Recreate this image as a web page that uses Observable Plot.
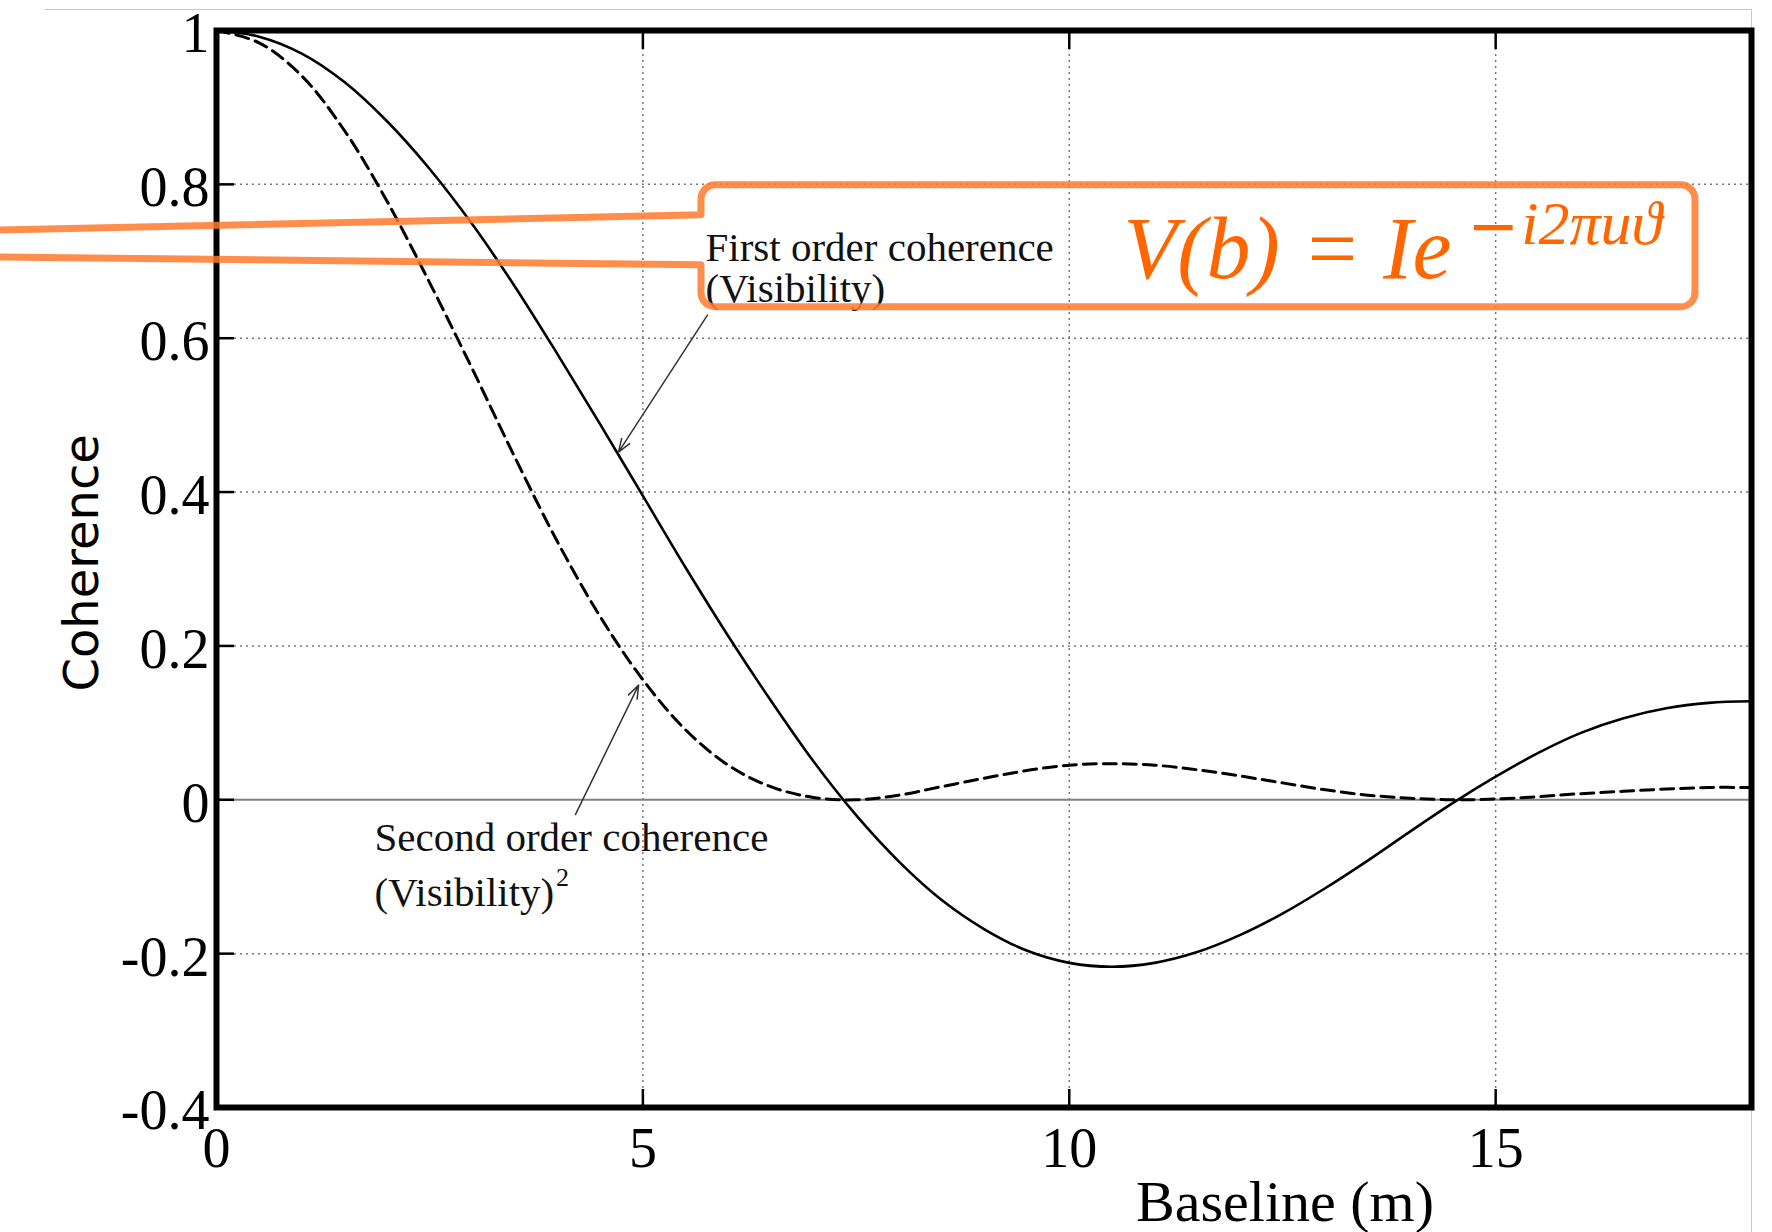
<!DOCTYPE html>
<html><head><meta charset="utf-8">
<script src="https://cdn.jsdelivr.net/npm/d3@7"></script>
<script src="https://cdn.jsdelivr.net/npm/@observablehq/plot@0.6"></script>
<style>
html,body{margin:0;padding:0;background:#fff;}
#wrap{position:relative;width:1772px;height:1232px;overflow:hidden;background:#fff;}
#border{position:absolute;left:45px;top:9px;width:1706px;height:1300px;border-top:1px solid #c8c8c8;border-right:1px solid #c8c8c8;z-index:0;}
#wrap svg{position:absolute;left:0;top:0;z-index:1;}
</style></head><body><div id="wrap"><div id="border"></div></div>
<script>
// ---- data ----
const baseline = [0,0.5,1,1.5,2,2.5,3,3.5,4,4.5,5,5.5,6,6.5,7,7.5,8,8.5,9,9.5,10,10.5,11,11.5,12,12.5,13,13.5,14,14.5,15,15.5,16,16.5,17,17.5,18];
const firstOrder = [1.000,0.992,0.970,0.933,0.882,0.820,0.748,0.667,0.579,0.488,0.395,0.302,0.213,0.129,0.050,-0.020,-0.080,-0.130,-0.168,-0.196,-0.212,-0.217,-0.212,-0.198,-0.176,-0.148,-0.115,-0.079,-0.041,-0.004,0.030,0.061,0.087,0.106,0.119,0.126,0.128];
const secondOrder = [1.000,0.984,0.941,0.870,0.778,0.672,0.560,0.445,0.335,0.238,0.156,0.091,0.045,0.017,0.003,0.000,0.006,0.017,0.028,0.038,0.045,0.047,0.045,0.039,0.031,0.022,0.013,0.006,0.002,0.000,0.001,0.004,0.008,0.011,0.014,0.016,0.016];

const xTicks = [0,5,10,15];
const xTickLabels = ["0","5","10","15"];
const yTicks = [1,0.8,0.6,0.4,0.2,0,-0.2,-0.4];
const yTickLabels = ["1","0.8","0.6","0.4","0.2","0","-0.2","-0.4"];
const gridXTicks = [5,10,15];
const gridYTicks = [0.8,0.6,0.4,0.2,-0.2];

const xLabel = "Baseline (m)";
const yLabel = "Coherence";

// annotations (data units)
const notes = [
  {x:5.734, y:0.701, t:"First order coherence"},
  {x:5.734, y:0.647, t:"(Visibility)"},
  {x:1.853, y:-0.066, t:"Second order coherence"},
  {x:1.853, y:-0.138, t:"(Visibility)"}
];
const noteSup = [{x:3.98, y:-0.112, t:"2"}];
const arrows = [
  {x1:5.757, y1:0.630, x2:4.714, y2:0.452},
  {x1:4.21, y1:-0.019, x2:4.95, y2:0.149}
];
const formulaMain = [{x:10.636, y:0.678, t:"V(b) = Ie"}];
const formulaMinus = [{x:14.67, y:0.718, t:"−"}];
const formulaSup = [{x:15.30, y:0.723, t:"i2πuϑ"}];
const callout = {left:5.687, right:17.343, top:0.7987, bottom:0.6403, joinTop:0.7597, joinBottom:0.6948, tipX:-2.533, tipTop:0.740, tipBottom:0.705};

const d1 = baseline.map((b,i)=>({b, v:firstOrder[i]}));
const d2 = baseline.map((b,i)=>({b, v:secondOrder[i]}));

const plot = Plot.plot({
  width:1772, height:1232,
  marginLeft:216, marginRight:21, marginTop:30, marginBottom:125,
  x:{domain:[0,18]},
  y:{domain:[-0.4,1]},
  style:{fontFamily:"'Liberation Serif', serif", fontSize:"56px", background:"transparent", color:"black", overflow:"visible"},
  marks:[
    Plot.gridX(gridXTicks, {stroke:"#777", strokeOpacity:1, strokeWidth:1.5, strokeDasharray:"2,4"}),
    Plot.gridY(gridYTicks, {stroke:"#777", strokeOpacity:1, strokeWidth:1.5, strokeDasharray:"2,4"}),
    Plot.ruleY([0], {stroke:"#808080", strokeWidth:2}),
    Plot.line(d2, {x:"b", y:"v", stroke:"black", strokeWidth:3, strokeDasharray:"13,7", curve:"catmull-rom"}),
    Plot.line(d1, {x:"b", y:"v", stroke:"black", strokeWidth:2.6, curve:"catmull-rom"}),
    Plot.frame({stroke:"black", strokeWidth:6}),
    Plot.axisX(xTicks, {anchor:"bottom", tickSize:0, tickPadding:20, tickFormat:d=>xTickLabels[xTicks.indexOf(d)], label:null, fontSize:56}),
    Plot.axisX(xTicks, {anchor:"bottom", tickSize:18, dy:-18, fill:"none", label:null, strokeWidth:2.5}),
    Plot.axisX(xTicks, {anchor:"top", tickSize:18, dy:18, fill:"none", label:null, strokeWidth:2.5}),
    Plot.axisY(yTicks, {anchor:"left", tickSize:0, tickPadding:7, dy:4, tickFormat:d=>yTickLabels[yTicks.indexOf(d)], label:null, fontSize:56}),
    Plot.axisY(yTicks, {anchor:"left", tickSize:18, dx:18, fill:"none", label:null, strokeWidth:2.5}),
    Plot.text([{t:xLabel, x:12.53}], {x:"x", text:"t", frameAnchor:"bottom", dy:113, lineAnchor:"bottom", textAnchor:"middle", fontSize:58}),
    Plot.text([{t:yLabel, y:0.308}], {y:"y", text:"t", frameAnchor:"left", dx:-119, rotate:-90, lineAnchor:"bottom", textAnchor:"middle", fontSize:48, fontFamily:"'DejaVu Sans', sans-serif"}),
    Plot.text(notes, {x:"x", y:"y", text:"t", textAnchor:"start", lineAnchor:"bottom", fontSize:41, fill:"#111"}),
    Plot.text(noteSup, {x:"x", y:"y", text:"t", textAnchor:"start", lineAnchor:"bottom", fontSize:26, fill:"#111"}),
    Plot.arrow(arrows, {x1:"x1", y1:"y1", x2:"x2", y2:"y2", stroke:"#333", strokeWidth:1.5, headLength:14, headAngle:40}),
    Plot.text(formulaMain, {x:"x", y:"y", text:"t", textAnchor:"start", lineAnchor:"bottom", fontSize:88, fontStyle:"italic", fill:"#ff6600"}),
    Plot.text(formulaMinus, {x:"x", y:"y", text:"t", textAnchor:"start", lineAnchor:"bottom", fontSize:62, fill:"#ff6600", fontFamily:"'DejaVu Sans', sans-serif"}),
    Plot.text(formulaSup, {x:"x", y:"y", text:"t", textAnchor:"start", lineAnchor:"bottom", fontSize:62, fontStyle:"italic", fill:"#ff6600"})
  ]
});

// callout shape, positioned through the plot's own scales
const sxo = plot.scale("x"), syo = plot.scale("y");
const fx = d3.scaleLinear(sxo.domain, sxo.range);
const fy = d3.scaleLinear(syo.domain, syo.range);
const L = fx(callout.left), R = fx(callout.right), T = fy(callout.top), B = fy(callout.bottom);
const r = 14;
const p = d3.path();
p.moveTo(fx(callout.tipX), fy(callout.tipTop));
p.lineTo(L, fy(callout.joinTop));
p.lineTo(L, T + r);
p.arcTo(L, T, L + r, T, r);
p.lineTo(R - r, T);
p.arcTo(R, T, R, T + r, r);
p.lineTo(R, B - r);
p.arcTo(R, B, R - r, B, r);
p.lineTo(L + r, B);
p.arcTo(L, B, L, B - r, r);
p.lineTo(L, fy(callout.joinBottom));
p.lineTo(fx(callout.tipX), fy(callout.tipBottom));
d3.select(plot).append("path")
  .attr("d", p.toString())
  .attr("fill", "none")
  .attr("stroke", "#ff7a2e")
  .attr("stroke-opacity", 0.85)
  .attr("stroke-width", 7)
  .attr("stroke-linejoin", "round");

document.getElementById("wrap").appendChild(plot);
</script></body></html>
